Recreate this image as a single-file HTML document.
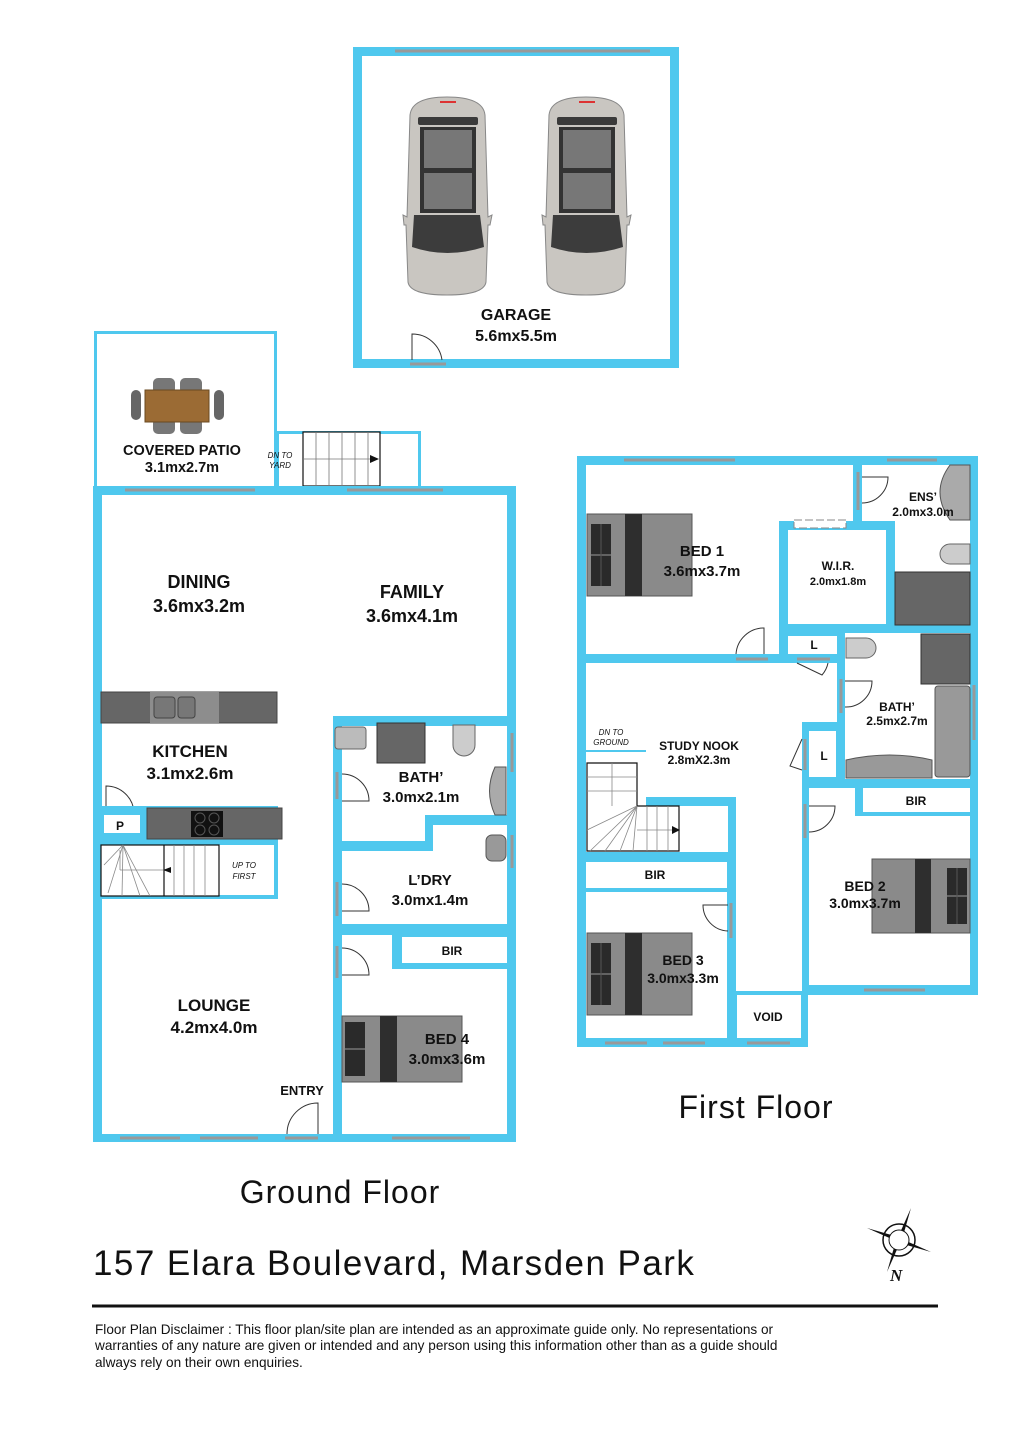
<!DOCTYPE html>
<html><head><meta charset="utf-8"><style>
html,body{margin:0;padding:0;background:#fff;}
svg{display:block}
text{font-family:"Liberation Sans",Arial,sans-serif;fill:#111}
.b{font-weight:bold}
</style></head><body>
<svg width="1024" height="1434" viewBox="0 0 1024 1434" xmlns="http://www.w3.org/2000/svg">
<defs>
<g id="car">
<path d="M6,18 Q8,0 43,0 Q79,0 81,18 L84,120 L88,118 L86,128 L84,128 L82,185 Q80,198 43,198 Q6,198 4,185 L2,128 L0,128 L-1,118 L3,120 Z" fill="#c9c6c1" stroke="#888" stroke-width="1"/>
<rect x="14" y="20" width="60" height="8" rx="2" fill="#3a3a3a"/>
<rect x="16" y="30" width="56" height="86" fill="#333"/>
<rect x="20" y="33" width="48" height="38" fill="#777"/>
<rect x="20" y="76" width="48" height="36" fill="#777"/>
<path d="M10,118 L76,118 L80,150 Q43,162 8,150 Z" fill="#3c3c3c"/>
<rect x="36" y="4" width="16" height="2" fill="#d33"/>
</g>
<g id="bedL">
<rect x="0" y="0" width="105" height="82" fill="#8a8a8a" stroke="#555"/>
<rect x="38" y="0" width="17" height="82" fill="#2e2e2e"/>
<rect x="4" y="10" width="20" height="62" fill="#2a2a2a"/>
<line x1="4" y1="41" x2="24" y2="41" stroke="#999"/>
<line x1="14" y1="10" x2="14" y2="72" stroke="#555"/>
</g>
</defs>

<!-- GARAGE -->
<rect x="353" y="47" width="326" height="321" fill="#4fc8ee"/>
<rect x="362" y="56" width="308" height="303" fill="#fff"/>
<line x1="395" y1="51" x2="650" y2="51" stroke="#999" stroke-width="3"/>
<line x1="410" y1="364" x2="446" y2="364" stroke="#999" stroke-width="3"/>
<path d="M412,360 L412,334 A30,30 0 0 1 442,360" fill="none" stroke="#333" stroke-width="1"/>
<use href="#car" x="404" y="97"/>
<use href="#car" x="543" y="97"/>
<text x="516" y="320" font-size="16" class="b" text-anchor="middle">GARAGE</text>
<text x="516" y="341" font-size="16" class="b" text-anchor="middle">5.6mx5.5m</text>

<!-- PATIO -->
<rect x="95.5" y="332.5" width="180" height="156" fill="#fff" stroke="#4fc8ee" stroke-width="3"/>
<rect x="277.5" y="432.5" width="142" height="56" fill="#fff" stroke="#4fc8ee" stroke-width="3"/>
<rect x="303" y="432" width="77" height="54" fill="#fff" stroke="#111" stroke-width="1.2"/>
<g stroke="#777" stroke-width="0.8">
<line x1="316" y1="432" x2="316" y2="486"/><line x1="329" y1="432" x2="329" y2="486"/><line x1="342" y1="432" x2="342" y2="486"/><line x1="355" y1="432" x2="355" y2="486"/><line x1="368" y1="432" x2="368" y2="486"/>
<line x1="303" y1="459" x2="372" y2="459"/></g>
<polygon points="370,455 379,459 370,463" fill="#111"/>
<text x="280" y="458" font-size="8" font-style="italic" text-anchor="middle">DN TO</text>
<text x="280" y="468" font-size="8" font-style="italic" text-anchor="middle">YARD</text>
<g>
<rect x="131" y="390" width="10" height="30" rx="5" fill="#666"/>
<rect x="214" y="390" width="10" height="30" rx="5" fill="#666"/>
<rect x="153" y="378" width="22" height="16" rx="5" fill="#777"/>
<rect x="180" y="378" width="22" height="16" rx="5" fill="#777"/>
<rect x="153" y="418" width="22" height="16" rx="5" fill="#777"/>
<rect x="180" y="418" width="22" height="16" rx="5" fill="#777"/>
<rect x="145" y="390" width="64" height="32" fill="#9b6b34" stroke="#6a4a20"/>
</g>
<text x="182" y="455" font-size="14.5" class="b" text-anchor="middle">COVERED PATIO</text>
<text x="182" y="472" font-size="14.5" class="b" text-anchor="middle">3.1mx2.7m</text>

<!-- GROUND FLOOR -->
<rect x="93" y="486" width="423" height="656" fill="#4fc8ee"/>
<polygon points="102,495 507,495 507,716 333,716 333,1134 102,1134" fill="#fff"/>
<polygon points="342,726 507,726 507,815 425,815 425,841 342,841" fill="#fff"/>
<polygon points="342,851 433,851 433,825 507,825 507,924 342,924" fill="#fff"/>
<polygon points="342,935 392,935 392,969 507,969 507,1134 342,1134" fill="#fff"/>
<rect x="402" y="937" width="105" height="26" fill="#fff"/>
<g stroke="#999" stroke-width="3">
<line x1="125" y1="490" x2="255" y2="490"/><line x1="347" y1="490" x2="443" y2="490"/>
<line x1="120" y1="1138" x2="180" y2="1138"/><line x1="200" y1="1138" x2="258" y2="1138"/>
<line x1="392" y1="1138" x2="470" y2="1138"/>
<line x1="512" y1="733" x2="512" y2="772"/><line x1="512" y1="835" x2="512" y2="868"/>
<line x1="337" y1="772" x2="337" y2="799"/><line x1="337" y1="882" x2="337" y2="916"/><line x1="337" y1="946" x2="337" y2="978"/>
<line x1="102" y1="812" x2="137" y2="812"/><line x1="285" y1="1138" x2="318" y2="1138"/>
</g>
<g fill="none" stroke="#333" stroke-width="1">
<path d="M342,774 A27,27 0 0 1 369,801 L342,801"/>
<path d="M342,884 A27,27 0 0 1 369,911 L342,911"/>
<path d="M342,948 A27,27 0 0 1 369,975 L342,975"/>
<path d="M106,812 L106,786 A28,28 0 0 1 134,812"/>
<path d="M287,1134 A31,31 0 0 1 318,1103 L318,1134"/>
</g>
<rect x="101" y="692" width="176" height="31" fill="#666" stroke="#444"/>
<rect x="150" y="692" width="69" height="31" fill="#8d8d8d"/>
<rect x="154" y="697" width="21" height="21" rx="3" fill="#777" stroke="#444"/>
<rect x="178" y="697" width="17" height="21" rx="3" fill="#777" stroke="#444"/>
<rect x="102" y="806" width="176" height="93" fill="#4fc8ee"/>
<rect x="104" y="815" width="36" height="18" fill="#fff"/>
<rect x="147" y="808" width="135" height="31" fill="#666" stroke="#444"/>
<rect x="191" y="811" width="32" height="26" fill="#111"/>
<g fill="none" stroke="#555"><circle cx="200" cy="818" r="5"/><circle cx="214" cy="818" r="5"/><circle cx="200" cy="830" r="5"/><circle cx="214" cy="830" r="5"/></g>
<text x="120" y="830" font-size="12" class="b" text-anchor="middle">P</text>
<rect x="102" y="845" width="172" height="50" fill="#fff"/>
<rect x="101" y="845" width="118" height="51" fill="#fff" stroke="#111" stroke-width="1.2"/>
<line x1="164" y1="845" x2="164" y2="896" stroke="#111" stroke-width="1.2"/>
<g stroke="#888" stroke-width="0.8">
<line x1="174" y1="845" x2="174" y2="896"/><line x1="184" y1="845" x2="184" y2="896"/><line x1="194" y1="845" x2="194" y2="896"/><line x1="205" y1="845" x2="205" y2="896"/>
<line x1="120" y1="870" x2="164" y2="870"/><line x1="120" y1="850" x2="120" y2="870"/>
<line x1="123" y1="845" x2="104" y2="865"/><line x1="123" y1="845" x2="108" y2="893"/><line x1="123" y1="845" x2="122" y2="896"/><line x1="123" y1="845" x2="140" y2="896"/><line x1="123" y1="845" x2="150" y2="896"/>
</g>
<polygon points="163,870 171,867 171,873" fill="#111"/>
<text x="244" y="868" font-size="8" font-style="italic" text-anchor="middle">UP TO</text>
<text x="244" y="879" font-size="8" font-style="italic" text-anchor="middle">FIRST</text>
<rect x="335" y="727" width="31" height="22" rx="3" fill="#bbb" stroke="#666"/>
<rect x="377" y="723" width="48" height="40" fill="#666" stroke="#333"/>
<path d="M453,725 L475,725 L475,745 A11,11 0 0 1 453,745 Z" fill="#ccc" stroke="#666"/>
<path d="M495,767 L506,767 L506,815 L495,815 Q484,791 495,767Z" fill="#aaa" stroke="#555"/>
<rect x="486" y="835" width="20" height="26" rx="6" fill="#999" stroke="#555"/>
<text x="421" y="782" font-size="15" class="b" text-anchor="middle">BATH’</text>
<text x="421" y="802" font-size="15" class="b" text-anchor="middle">3.0mx2.1m</text>
<text x="430" y="885" font-size="15" class="b" text-anchor="middle">L’DRY</text>
<text x="430" y="905" font-size="15" class="b" text-anchor="middle">3.0mx1.4m</text>
<text x="452" y="955" font-size="12" class="b" text-anchor="middle">BIR</text>
<g transform="translate(342,1016)"><rect x="0" y="0" width="120" height="66" fill="#8a8a8a" stroke="#555"/><rect x="38" y="0" width="17" height="66" fill="#2e2e2e"/><rect x="3" y="6" width="20" height="54" fill="#2a2a2a"/><line x1="3" y1="33" x2="23" y2="33" stroke="#999"/></g>
<text x="447" y="1044" font-size="15" class="b" text-anchor="middle">BED 4</text>
<text x="447" y="1064" font-size="15" class="b" text-anchor="middle">3.0mx3.6m</text>
<text x="199" y="588" font-size="18" class="b" text-anchor="middle">DINING</text>
<text x="199" y="612" font-size="18" class="b" text-anchor="middle">3.6mx3.2m</text>
<text x="412" y="598" font-size="18" class="b" text-anchor="middle">FAMILY</text>
<text x="412" y="622" font-size="18" class="b" text-anchor="middle">3.6mx4.1m</text>
<text x="190" y="757" font-size="17" class="b" text-anchor="middle">KITCHEN</text>
<text x="190" y="779" font-size="17" class="b" text-anchor="middle">3.1mx2.6m</text>
<text x="214" y="1011" font-size="17" class="b" text-anchor="middle">LOUNGE</text>
<text x="214" y="1033" font-size="17" class="b" text-anchor="middle">4.2mx4.0m</text>
<text x="302" y="1095" font-size="13" class="b" text-anchor="middle">ENTRY</text>

<!-- FIRST FLOOR -->
<polygon points="577,456 978,456 978,995 808,995 808,1047 577,1047" fill="#4fc8ee"/>
<polygon points="586,465 853,465 853,521 779,521 779,654 586,654" fill="#fff"/>
<polygon points="862,465 970,465 970,625 895,625 895,521 862,521" fill="#fff"/>
<rect x="788" y="530" width="98" height="94" fill="#fff"/>
<rect x="788" y="636" width="49" height="18" fill="#fff"/>
<rect x="845" y="633" width="125" height="146" fill="#fff"/>
<rect x="809" y="731" width="27" height="46" fill="#fff"/>
<polygon points="586,663 837,663 837,722 802,722 802,991 736,991 736,797 646,797 646,750 586,750" fill="#fff"/>
<rect x="586" y="752" width="60" height="100" fill="#fff"/>
<rect x="646" y="806" width="82" height="46" fill="#fff"/>
<rect x="586" y="862" width="141" height="26" fill="#fff"/>
<rect x="586" y="892" width="141" height="146" fill="#fff"/>
<rect x="737" y="995" width="64" height="43" fill="#fff"/>
<polygon points="809,788 855,788 855,816 970,816 970,985 809,985" fill="#fff"/>
<rect x="863" y="788" width="107" height="24" fill="#fff"/>
<g stroke="#999" stroke-width="3">
<line x1="624" y1="460" x2="735" y2="460"/><line x1="887" y1="460" x2="937" y2="460"/>
<line x1="605" y1="1043" x2="647" y2="1043"/><line x1="663" y1="1043" x2="705" y2="1043"/><line x1="747" y1="1043" x2="790" y2="1043"/>
<line x1="864" y1="990" x2="925" y2="990"/><line x1="974" y1="685" x2="974" y2="740"/>
<line x1="858" y1="472" x2="858" y2="510"/><line x1="736" y1="659" x2="768" y2="659"/><line x1="797" y1="659" x2="830" y2="659"/>
<line x1="841" y1="679" x2="841" y2="713"/><line x1="805" y1="739" x2="805" y2="770"/><line x1="805" y1="804" x2="805" y2="838"/><line x1="731" y1="903" x2="731" y2="938"/>
</g>
<rect x="794" y="520" width="52" height="8" fill="#fff" stroke="#888" stroke-dasharray="8,3"/>
<g fill="none" stroke="#333" stroke-width="1">
<path d="M862,477 L888,477 A26,26 0 0 1 862,503"/>
<path d="M736,654 A28,28 0 0 1 764,628 L764,654"/>
<path d="M797,663 L822,675 A26,26 0 0 0 828,663"/>
<path d="M845,681 L872,681 A26,26 0 0 1 845,707"/>
<path d="M802,739 L790,766 L802,770"/>
<path d="M809,806 L835,806 A26,26 0 0 1 809,832"/>
<path d="M728,905 L703,905 A26,26 0 0 0 728,931"/>
</g>
<path d="M950,465 L970,465 L970,520 L950,520 Q930,492 950,465Z" fill="#aaa" stroke="#555"/>
<path d="M970,544 L950,544 A10,10 0 0 0 950,564 L970,564Z" fill="#ccc" stroke="#666"/>
<rect x="895" y="572" width="75" height="53" fill="#666" stroke="#333"/>
<path d="M846,638 L866,638 A10,10 0 0 1 866,658 L846,658Z" fill="#ccc" stroke="#666"/>
<rect x="921" y="634" width="49" height="50" fill="#666" stroke="#333"/>
<rect x="935" y="686" width="35" height="91" rx="3" fill="#999" stroke="#555"/>
<path d="M846,760 Q890,750 932,760 L932,778 L846,778Z" fill="#999" stroke="#555"/>
<text x="923" y="501" font-size="12" class="b" text-anchor="middle">ENS’</text>
<text x="923" y="516" font-size="12" class="b" text-anchor="middle">2.0mx3.0m</text>
<text x="838" y="570" font-size="12" class="b" text-anchor="middle">W.I.R.</text>
<text x="838" y="585" font-size="11" class="b" text-anchor="middle">2.0mx1.8m</text>
<text x="814" y="649" font-size="12" class="b" text-anchor="middle">L</text>
<text x="824" y="760" font-size="12" class="b" text-anchor="middle">L</text>
<text x="897" y="711" font-size="12" class="b" text-anchor="middle">BATH’</text>
<text x="897" y="725" font-size="12" class="b" text-anchor="middle">2.5mx2.7m</text>
<text x="916" y="805" font-size="12" class="b" text-anchor="middle">BIR</text>
<text x="655" y="879" font-size="12" class="b" text-anchor="middle">BIR</text>
<text x="768" y="1021" font-size="12" class="b" text-anchor="middle">VOID</text>
<text x="699" y="750" font-size="12" class="b" text-anchor="middle">STUDY NOOK</text>
<text x="699" y="764" font-size="12" class="b" text-anchor="middle">2.8mX2.3m</text>
<text x="611" y="735" font-size="8" font-style="italic" text-anchor="middle">DN TO</text>
<text x="611" y="745" font-size="8" font-style="italic" text-anchor="middle">GROUND</text>
<path d="M587,763 L637,763 L637,806 L679,806 L679,851 L587,851Z" fill="#fff" stroke="#111" stroke-width="1.2"/>
<g stroke="#888" stroke-width="0.8">
<line x1="587" y1="777" x2="637" y2="777"/><line x1="587" y1="791" x2="637" y2="791"/><line x1="612" y1="763" x2="612" y2="806"/>
<line x1="647" y1="806" x2="647" y2="851"/><line x1="657" y1="806" x2="657" y2="851"/><line x1="668" y1="806" x2="668" y2="851"/>
<line x1="637" y1="806" x2="590" y2="851"/><line x1="637" y1="806" x2="605" y2="851"/><line x1="637" y1="806" x2="620" y2="851"/><line x1="637" y1="806" x2="633" y2="851"/><line x1="637" y1="806" x2="587" y2="830"/>
<line x1="637" y1="830" x2="672" y2="830"/></g>
<polygon points="672,826 680,830 672,834" fill="#111"/>
<use href="#bedL" x="587" y="514"/>
<use href="#bedL" x="587" y="933"/>
<g transform="translate(872,859)">
<rect x="0" y="0" width="98" height="74" fill="#8a8a8a" stroke="#555"/>
<rect x="43" y="0" width="16" height="74" fill="#2e2e2e"/>
<rect x="75" y="9" width="20" height="56" fill="#2a2a2a"/>
<line x1="75" y1="37" x2="95" y2="37" stroke="#999"/>
<line x1="85" y1="9" x2="85" y2="65" stroke="#555"/>
</g>
<text x="702" y="556" font-size="15" class="b" text-anchor="middle">BED 1</text>
<text x="702" y="576" font-size="15" class="b" text-anchor="middle">3.6mx3.7m</text>
<text x="683" y="965" font-size="14" class="b" text-anchor="middle">BED 3</text>
<text x="683" y="983" font-size="14" class="b" text-anchor="middle">3.0mx3.3m</text>
<text x="865" y="891" font-size="14" class="b" text-anchor="middle">BED 2</text>
<text x="865" y="908" font-size="14" class="b" text-anchor="middle">3.0mx3.7m</text>

<text x="340" y="1203" font-size="32" text-anchor="middle" style="letter-spacing:1px">Ground Floor</text>
<text x="756" y="1118" font-size="32" text-anchor="middle" style="letter-spacing:1px">First Floor</text>
<text x="93" y="1275" font-size="35" style="letter-spacing:1.45px">157 Elara Boulevard, Marsden Park</text>
<line x1="92" y1="1306" x2="938" y2="1306" stroke="#111" stroke-width="3"/>
<text x="95" y="1334" font-size="13.6">Floor Plan Disclaimer : This floor plan/site plan are intended as an approximate guide only. No representations or</text>
<text x="95" y="1350" font-size="13.6">warranties of any nature are given or intended and any person using this information other than as a guide should</text>
<text x="95" y="1367" font-size="13.6">always rely on their own enquiries.</text>
<g transform="translate(899,1240)">
<polygon points="12,-32 4,-4 -4,4" fill="#111"/>
<polygon points="32,12 4,4 -4,-4" fill="#111"/>
<polygon points="-12,32 -4,4 4,-4" fill="#111"/>
<polygon points="-32,-12 -4,-4 4,4" fill="#111"/>
<circle r="16" fill="none" stroke="#111" stroke-width="1.5"/>
<circle r="10" fill="#fff" stroke="#111"/>
<text x="-9" y="41" font-size="17" font-style="italic" class="b" style="font-family:'Liberation Serif',serif">N</text>
</g>
</svg>
</body></html>
